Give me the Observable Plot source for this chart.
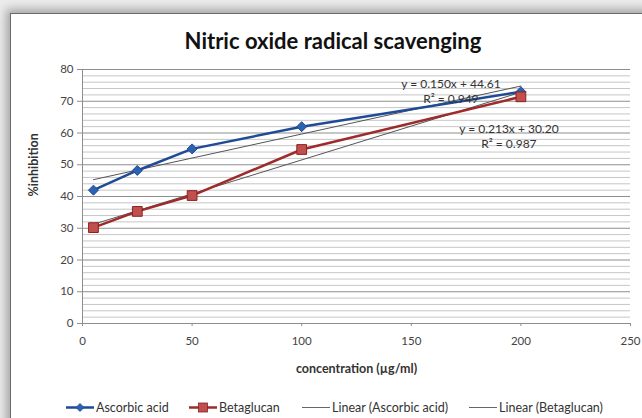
<!DOCTYPE html>
<html>
<head>
<meta charset="utf-8">
<script src="https://cdn.jsdelivr.net/npm/d3@7"></script>
<script src="https://cdn.jsdelivr.net/npm/@observablehq/plot@0.6"></script>
<style>
  html, body { margin: 0; padding: 0; }
  body { width: 642px; height: 418px; overflow: hidden; background: #ececec; font-family: Lato, "Open Sans", sans-serif; position: relative; }
  #frame { position: absolute; left: 10px; top: 13px; width: 700px; height: 500px; background: #fff; border: 1.5px solid #6a6a6a; box-shadow: -2px -2px 9px 2px rgba(0,0,0,0.3); }
  #title { position: absolute; left: 0; width: 666px; top: 28px; text-align: center; font: bold 22px Lato, sans-serif; color: #111; line-height: 26px; }
  #chart { position: absolute; left: 0; top: 55px; }
  .leg { position: absolute; top: 400px; font: 12.5px Lato, sans-serif; color: #333; display: flex; align-items: center; white-space: nowrap; }
  .leg svg { display: block; margin-right: 1px; }
</style>
</head>
<body>
<div id="frame"></div>
<div id="title"></div>
<div id="chart"></div>
<div id="legend"></div>
<script>
const titleText = "Nitric oxide radical scavenging";
const xLabel = "concentration (µg/ml)";
const yLabel = "%inhibition";
const conc = [5, 25, 50, 100, 200];
const ascorbic = [42, 48.2, 55, 62, 73];
const betaglucan = [30.2, 35.3, 40.3, 54.8, 71.4];
const seriesNames = ["Ascorbic acid", "Betaglucan"];
const trendNames = ["Linear (Ascorbic acid)", "Linear (Betaglucan)"];
const eqLabels = ["y = 0.150x + 44.61\nR² = 0.949", "y = 0.213x + 30.20\nR² = 0.987"];
const xTicks = [0, 50, 100, 150, 200, 250];
const yTicks = [0, 10, 20, 30, 40, 50, 60, 70, 80];
const yMinor = d3.range(0, 81, 2).filter(d => d % 10 !== 0);

const blueLine = "#1f4a96", blueMark = "#2d62b0";
const redLine = "#9e2a2a", redMark = "#c0504d", redEdge = "#8c2020";

document.getElementById("title").textContent = titleText;

const asc = conc.map((x, i) => ({x, y: ascorbic[i]}));
const bet = conc.map((x, i) => ({x, y: betaglucan[i]}));
const last = conc.length - 1;

const chart = Plot.plot({
  width: 642,
  height: 330,
  marginLeft: 82,
  marginRight: 12,
  marginTop: 14,
  marginBottom: 62,
  style: {fontFamily: "Lato, sans-serif", fontSize: "11.5px", color: "#444", background: "transparent", overflow: "visible"},
  x: {domain: [0, 250]},
  y: {domain: [0, 80]},
  marks: [
    Plot.ruleY(yMinor, {stroke: "#c6c6c6", strokeWidth: 1}),
    Plot.ruleY(yTicks, {stroke: "#8e8e8e", strokeWidth: 1}),
    Plot.ruleX([0], {stroke: "#8e8e8e", strokeWidth: 1}),
    Plot.axisY({ticks: yTicks, tickSize: 5, tickPadding: 4, label: null, stroke: "#8e8e8e", fill: "#444"}),
    Plot.axisX({ticks: xTicks, tickSize: 3, tickPadding: 10, label: null, stroke: "#8e8e8e", fill: "#444"}),
    Plot.text([yLabel], {frameAnchor: "left", rotate: -90, dx: -49, fontWeight: "bold", fill: "#333", fontSize: 12.5}),
    Plot.text([xLabel], {frameAnchor: "bottom", dy: 49, fontWeight: "bold", fill: "#333", fontSize: 12.5}),
    Plot.linearRegressionY(asc, {x: "x", y: "y", ci: 0, stroke: "#555", strokeWidth: 1}),
    Plot.linearRegressionY(bet, {x: "x", y: "y", ci: 0, stroke: "#555", strokeWidth: 1}),
    Plot.line(asc, {x: "x", y: "y", stroke: blueLine, strokeWidth: 2.5}),
    Plot.line(bet, {x: "x", y: "y", stroke: redLine, strokeWidth: 2.5}),
    Plot.dot(asc, {x: "x", y: "y", symbol: "diamond2", r: 4.5, fill: blueMark, stroke: blueLine, strokeWidth: 1}),
    Plot.dot(bet, {x: "x", y: "y", symbol: "square", r: 5.5, fill: redMark, stroke: redEdge, strokeWidth: 1}),
    Plot.text([asc[last]], {x: "x", y: "y", text: () => eqLabels[0], dx: -70, dy: -1, lineHeight: 1.25, fill: "#333", fontSize: 12}),
    Plot.text([bet[last]], {x: "x", y: "y", text: () => eqLabels[1], dx: -12, dy: 39, lineHeight: 1.25, fill: "#333", fontSize: 12})
  ]
});
document.getElementById("chart").appendChild(chart);

// legend
const legendItems = [
  {name: seriesNames[0], left: 66, color: blueLine, mark: "diamond", fill: blueMark},
  {name: seriesNames[1], left: 189, color: redLine, mark: "square", fill: redMark},
  {name: trendNames[0], left: 302, color: "#666", mark: null},
  {name: trendNames[1], left: 469, color: "#666", mark: null}
];
const legend = document.getElementById("legend");
for (const it of legendItems) {
  const div = document.createElement("div");
  div.className = "leg";
  div.style.left = it.left + "px";
  let sym = "";
  if (it.mark === "diamond") sym = `<path d="M14,2.5 L18,6.5 L14,10.5 L10,6.5 Z" fill="${it.fill}" stroke="${it.color}" stroke-width="0.8"/>`;
  if (it.mark === "square") sym = `<rect x="9.5" y="2" width="9" height="9" fill="${it.fill}" stroke="${redEdge}" stroke-width="0.8"/>`;
  const sw = it.mark ? 2.5 : 1;
  div.innerHTML = `<svg width="29" height="13"><line x1="0" x2="28" y1="6.5" y2="6.5" stroke="${it.color}" stroke-width="${sw}"/>${sym}</svg><span>${it.name}</span>`;
  legend.appendChild(div);
}
</script>
</body>
</html>
